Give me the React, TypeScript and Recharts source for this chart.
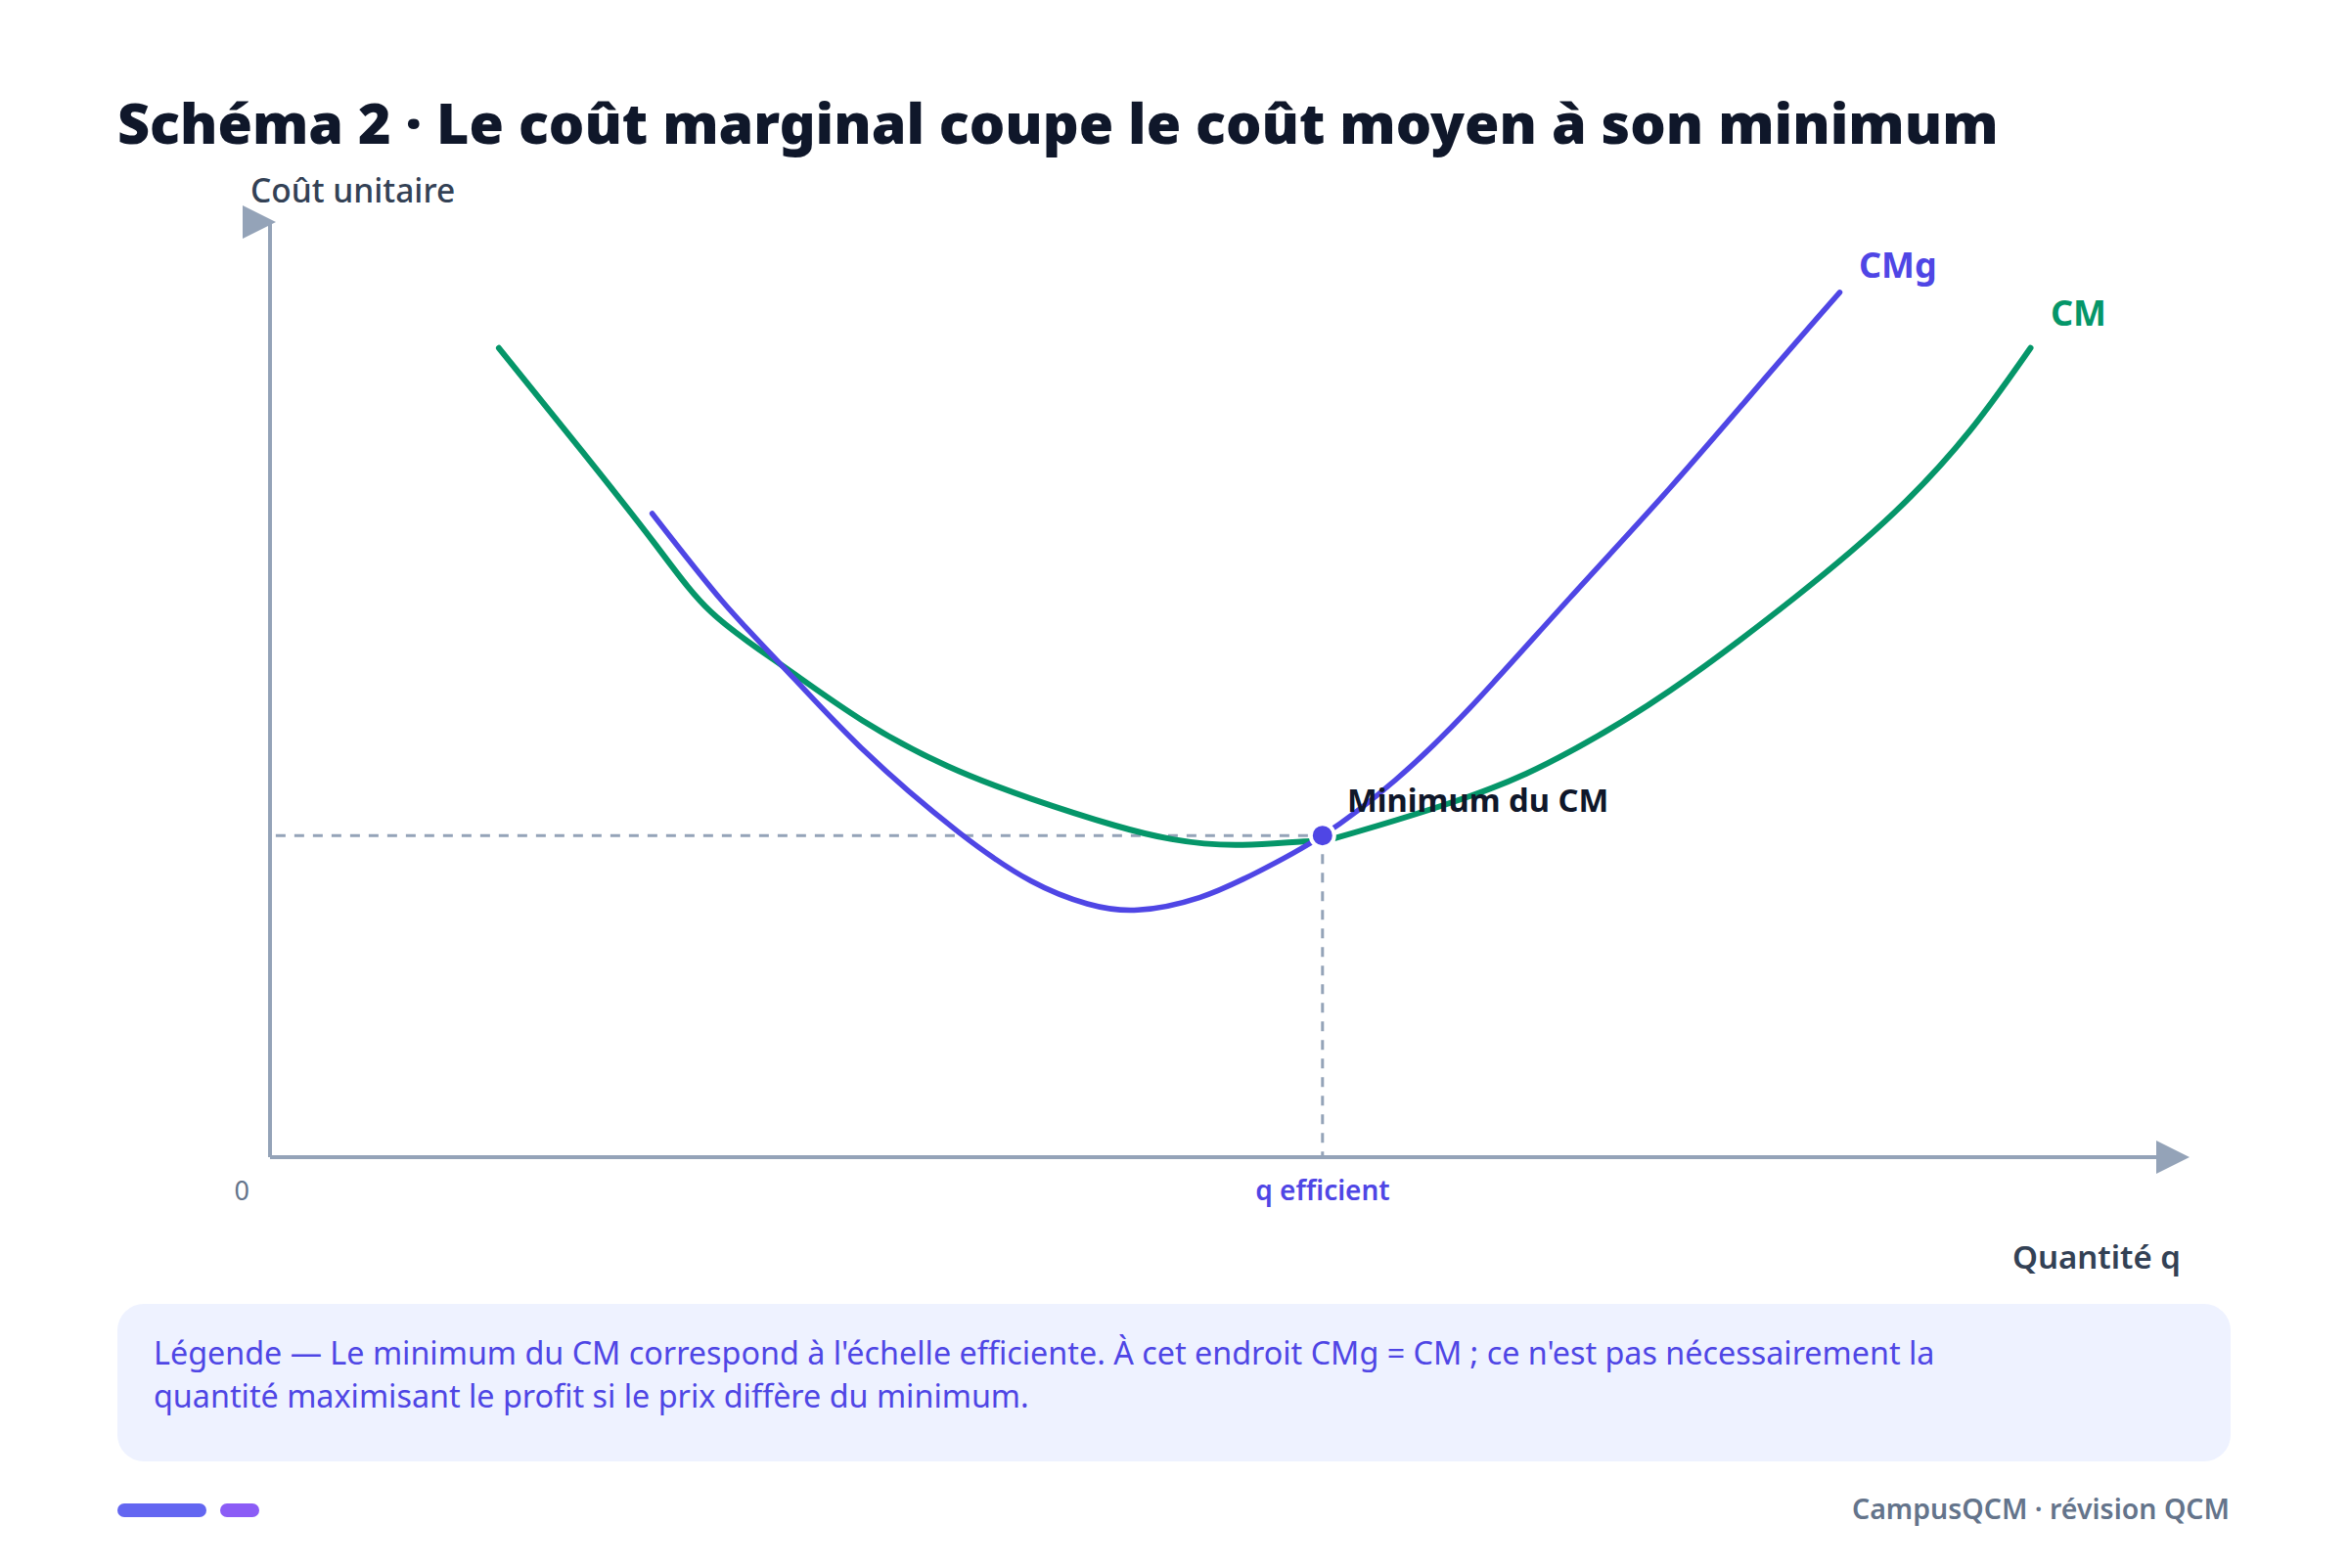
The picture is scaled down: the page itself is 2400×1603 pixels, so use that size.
import React from "react";
import { LineChart, Line, XAxis, YAxis, ReferenceLine, ReferenceDot } from "recharts";

// Courbe de coût moyen (CM) : quantité q, coût unitaire
const CM_Q = [11.96, 16.3, 20.11, 23.05, 26.72, 30.97, 35.38, 39.78, 44.17, 47.12, 50.63, 54.45, 55.83, 62.73, 67.95, 73.16, 79.69, 84.9, 88.82, 92.0];
const CM_C = [86.53, 75.5, 65.6, 58.3, 52.64, 46.68, 41.84, 38.33, 35.46, 34.01, 33.39, 33.79, 34.21, 38.62, 43.39, 49.9, 59.86, 68.97, 77.65, 86.54];

// Courbe de coût marginal (CMg)
const CMG_Q = [19.97, 23.63, 26.72, 30.97, 35.96, 39.78, 42.71, 45.35, 48.57, 51.52, 55.01, 58.82, 62.73, 67.95, 73.16, 78.38, 82.03];
const CMG_C = [68.83, 59.46, 52.64, 43.61, 34.8, 29.52, 27.09, 26.43, 27.76, 30.4, 34.41, 40.35, 48.1, 59.86, 71.57, 83.9, 92.48];

// Minimum du CM (échelle efficiente)
const Q_EFF = 55.0;
const C_MIN = 34.4;

const TITLE = "Schéma 2 · Le coût marginal coupe le coût moyen à son minimum";
const LEGEND_LINES = [
  "Légende — Le minimum du CM correspond à l'échelle efficiente. À cet endroit CMg = CM ; ce n'est pas nécessairement la",
  "quantité maximisant le profit si le prix diffère du minimum.",
];
const FOOTER = "CampusQCM · révision QCM";

const cmData = CM_Q.map((q, i) => ({ q, cm: CM_C[i] }));
const cmgData = CMG_Q.map((q, i) => ({ q, cmg: CMG_C[i] }));

const INDIGO = "#4f46e5";
const GREEN = "#059669";
const AXIS = "#94a3b8";
const FONT = "'Noto Sans', 'Open Sans', sans-serif";

const Arrow = (props: any) => {
  const { cx, cy } = props;
  if (cx == null || cy == null) return null;
  const tip = cx + 6;
  return <polygon points={`${tip},${cy} ${tip - 34},${cy - 17} ${tip - 34},${cy + 17}`} fill={AXIS} />;
};

export default function App() {
  return (
    <div style={{ position: "absolute", left: 0, top: 0, width: 2400, height: 1603, background: "#fff", fontFamily: FONT }}>
      <svg width={2400} height={1603} style={{ position: "absolute", left: 0, top: 0 }}>
        <text x={120} y={147} fontSize={57.4} fontWeight={900} fill="#0f172a">{TITLE}</text>
        <text x={256} y={207} fontSize={33.5} fontWeight={500} fill="#334155">Coût unitaire</text>
        <text x={255} y={1227} fontSize={27} textAnchor="end" fill="#64748b">0</text>
        <text x={1352} y={1227} fontSize={28} fontWeight={600} textAnchor="middle" fill={INDIGO}>q efficient</text>
        <text x={2229} y={1297} fontSize={33} fontWeight={600} textAnchor="end" fill="#334155">Quantité q</text>

        <rect x={120} y={1333} width={2160} height={161} rx={27} fill="#eef2ff" />
        {LEGEND_LINES.map((l, i) => (
          <text key={i} x={157} y={1395 + i * 44} fontSize={32.3} fill={INDIGO}>{l}</text>
        ))}

        <rect x={120} y={1537} width={91} height={14} rx={7} fill="#6366f1" />
        <rect x={225} y={1537} width={40} height={14} rx={7} fill="#8b5cf6" />
        <text x={2279} y={1553} fontSize={28.5} fontWeight={600} textAnchor="end" fill="#64748b">{FOOTER}</text>
      </svg>

      <div style={{ position: "absolute", left: 0, top: 0 }}>
        <LineChart width={2400} height={1603} margin={{ left: 276, right: 168, top: 227, bottom: 420 }}>
          <XAxis dataKey="q" type="number" domain={[0, 100]} hide allowDataOverflow />
          <YAxis type="number" domain={[0, 100]} hide allowDataOverflow />
          <ReferenceLine segment={[{ x: 0, y: 0 }, { x: 0, y: 100 }]} stroke={AXIS} strokeWidth={4} ifOverflow="visible" />
          <ReferenceLine segment={[{ x: 0, y: 0 }, { x: 100, y: 0 }]} stroke={AXIS} strokeWidth={4} ifOverflow="visible" />
          <ReferenceDot x={0} y={100} shape={Arrow} ifOverflow="visible" />
          <ReferenceDot x={100} y={0} shape={Arrow} ifOverflow="visible" />
          <ReferenceLine segment={[{ x: 0.3, y: C_MIN }, { x: Q_EFF, y: C_MIN }]} stroke={AXIS} strokeWidth={3} strokeDasharray="10 9" />
          <ReferenceLine segment={[{ x: Q_EFF, y: C_MIN }, { x: Q_EFF, y: 0 }]} stroke={AXIS} strokeWidth={3} strokeDasharray="10 9" />
          <Line data={cmData} dataKey="cm" type="natural" stroke={GREEN} strokeWidth={6} strokeLinecap="round" dot={false} isAnimationActive={false} />
          <Line data={cmgData} dataKey="cmg" type="natural" stroke={INDIGO} strokeWidth={5.5} strokeLinecap="round" dot={false} isAnimationActive={false} />
          <ReferenceDot x={Q_EFF} y={C_MIN} r={12} fill={INDIGO} stroke="#fff" strokeWidth={4} />
        </LineChart>
      </div>

      <svg width={2400} height={1603} style={{ position: "absolute", left: 0, top: 0, pointerEvents: "none" }}>
        <text x={1377} y={830} fontSize={32.7} fontWeight={700} fill="#0f172a">Minimum du CM</text>
        <text x={1900} y={284} fontSize={36} fontWeight={700} fill={INDIGO}>CMg</text>
        <text x={2096} y={333} fontSize={36} fontWeight={700} fill={GREEN}>CM</text>
      </svg>
    </div>
  );
}
